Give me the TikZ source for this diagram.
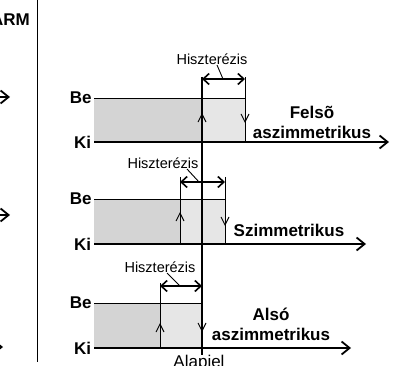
\documentclass[tikz,border=0pt]{standalone}
\usepackage{fontspec}
\setmainfont{Liberation Sans}
\usetikzlibrary{arrows.meta}

\definecolor{offgray}{HTML}{D4D4D4}
\definecolor{bandgray}{HTML}{E6E6E6}

\tikzset{
  axis/.style={line width=1.8pt, -{Straight Barb[length=8pt, width=13pt]}},
  level/.style={line width=0.9pt},
  thin line/.style={line width=0.9pt},
  hyst/.style={line width=1.6pt,
    {Straight Barb[length=6pt, width=11pt]}-{Straight Barb[length=6pt, width=11pt]}},
  turn/.style={line width=0.9pt, -{Straight Barb[length=8pt, width=8pt]}},
  big/.style={font=\bfseries\fontsize{17}{20}\selectfont, inner sep=2pt},
  small/.style={font=\fontsize{14.5}{16}\selectfont, inner sep=0pt},
}

\begin{document}
\begin{tikzpicture}[x=1pt, y=-1pt]
  \useasboundingbox (0, 0) rectangle (415, 366);
  \clip (0, 0) rectangle (415, 366);

  % left part, cut off
  \node[big, anchor = east, inner sep = 0pt] (arm) at (30, 20) {ARM};
  \draw[axis] (-10, 97) -- (10, 97);
  \draw[axis] (-10, 215) -- (10, 215);
  \draw[axis] (-10, 347) -- (3, 347);
  \draw[thin line] (37, 0) -- (37, 362);

  % upper asymmetric
  \fill[offgray] (94, 98) rectangle (202, 142);
  \fill[bandgray] (202, 98) rectangle (245, 142);
  \draw[level] (94, 98) -- (245, 98)
    node[pos = 0, left, big] (be1) {Be};
  \draw[axis] (94, 142) -- (389, 142)
    node[pos = 0, left, big] (ki1) {Ki};
  \draw[thin line] (245, 77) -- (245, 142);
  \draw[turn] (202, 142) -- (202, 113);
  \draw[turn] (245, 98) -- (245, 123);
  \draw[hyst] (202, 79) -- (245, 79);
  \node[small] (hy1) at (212, 59) {Hiszterézis};
  \draw[thin line] (217, 65) -- (223, 79);
  \node[big, align = center, font = \bfseries\fontsize{17}{20}\selectfont]
    (up) at (312, 122) {Felsõ\\aszimmetrikus};

  % symmetric
  \fill[offgray] (94, 199) rectangle (180, 244);
  \fill[bandgray] (180, 199) rectangle (225, 244);
  \draw[level] (94, 199) -- (225, 199)
    node[pos = 0, left, big] (be2) {Be};
  \draw[axis] (94, 244) -- (366, 244)
    node[pos = 0, left, big] (ki2) {Ki};
  \draw[thin line] (180, 177) -- (180, 244);
  \draw[thin line] (225, 177) -- (225, 244);
  \draw[turn] (180, 244) -- (180, 212);
  \draw[turn] (225, 199) -- (225, 226);
  \draw[hyst] (180, 182) -- (225, 182);
  \node[small] (hy2) at (163, 163) {Hiszterézis};
  \draw[thin line] (187, 169) -- (199, 182);
  \node[big] (sym) at (289, 230) {Szimmetrikus};

  % lower asymmetric
  \fill[offgray] (94, 303) rectangle (160, 348);
  \fill[bandgray] (160, 303) rectangle (202, 348);
  \draw[level] (94, 303) -- (202, 303)
    node[pos = 0, left, big] (be3) {Be};
  \draw[axis] (94, 348) -- (351, 348)
    node[pos = 0, left, big] (ki3) {Ki};
  \draw[thin line] (160, 283) -- (160, 348);
  \draw[turn] (160, 348) -- (160, 323);
  \draw[turn] (202, 303) -- (202, 332);
  \draw[hyst] (160, 286) -- (202, 286);
  \node[small] (hy3) at (160, 267) {Hiszterézis};
  \draw[thin line] (167, 273) -- (180, 286);
  \node[big, align = center, font = \bfseries\fontsize{17}{20}\selectfont]
    (low) at (271, 324) {Alsó\\aszimmetrikus};

  % set point
  \draw[line width = 1.6pt] (202, 77) -- (202, 355);
  \node[font = \fontsize{17}{20}\selectfont, anchor = north, inner sep = 0pt]
    (sp) at (199, 355) {Alapjel};
\end{tikzpicture}
\end{document}
